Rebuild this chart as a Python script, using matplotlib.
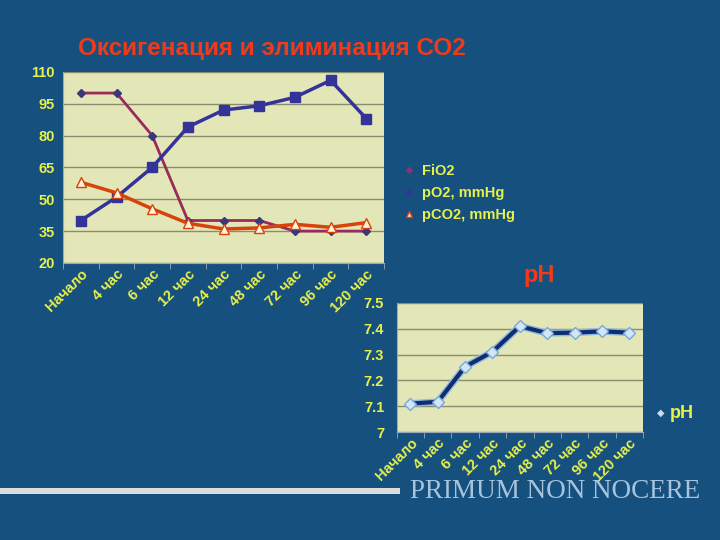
import numpy as np
import matplotlib.pyplot as plt
from matplotlib.lines import Line2D

# данные
categories = ['Начало', '4 час', '6 час', '12 час', '24 час', '48 час', '72 час', '96 час', '120 час']
fio2 = [100, 100, 80, 40, 40, 40, 35, 35, 35]
po2 = [40, 51, 65, 84, 92, 94, 98, 106, 88]
pco2 = [58, 53, 45.5, 38.7, 36, 36.5, 38.2, 36.8, 39]
ph = [7.11, 7.117, 7.253, 7.311, 7.41, 7.383, 7.385, 7.39, 7.385]

BG = '#15507f'
FACE = '#e3e6b6'
YEL = '#e8f04a'
RED = '#f03a1a'
GRID = '#8a8c70'

plt.rcParams['font.family'] = ['Liberation Sans', 'DejaVu Sans']

fig = plt.figure(figsize=(7.2, 5.4), dpi=100)
fig.patch.set_facecolor(BG)


def style_axes(ax, fs, pad):
    ax.set_facecolor(FACE)
    for s in ['top', 'right']:
        ax.spines[s].set_visible(False)
    ax.spines['left'].set_color('#9aa8b8')
    ax.spines['bottom'].set_color('#9aa8b8')
    ax.yaxis.grid(True, color=GRID, lw=1)
    ax.set_axisbelow(True)
    ax.tick_params(axis='y', length=0, colors=YEL, labelsize=fs, pad=pad)
    ax.tick_params(axis='x', which='minor', length=4, color='#9aa8b8')
    ax.tick_params(axis='x', which='major', length=0, colors=YEL, labelsize=fs, pad=3)
    for lab in ax.get_yticklabels():
        lab.set_fontweight('bold')
    n = len(categories)
    x = np.arange(n)
    ax.set_xlim(-0.5, n - 0.5)
    ax.set_xticks(x)
    ax.set_xticks(np.arange(n + 1) - 0.5, minor=True)
    ax.set_xticklabels(categories, rotation=45, ha='right', rotation_mode='anchor',
                       fontweight='bold', color=YEL)


# верхний график
ax1 = fig.add_axes([0.0875, 0.513, 0.446, 0.354])
x = np.arange(len(categories))
ax1.plot(x, fio2, color='#9a2a5a', lw=2, marker='D', ms=4.5,
         mfc='#3a3a7a', mec='#3a3a7a', label='FiO2', zorder=3)
ax1.plot(x, po2, color='#33339a', lw=2.5, marker='s', ms=6.5,
         mfc='#33339a', mec='#33339a', label='pO2, mmHg', zorder=4)
ax1.plot(x, pco2, color='#d8420c', lw=2.5, marker='^', ms=6.5,
         mfc='#fff4d8', mec='#d8420c', label='pCO2, mmHg', zorder=5)
ax1.set_ylim(20, 110)
ax1.set_yticks(np.arange(20, 111, 15))
style_axes(ax1, 10.5, 6)

handles = [
    Line2D([], [], color='#7a3a7a', lw=0, marker='D', ms=3, mfc='#7a3a7a', mec='#7a3a7a'),
    Line2D([], [], color='#33339a', lw=0, marker='s', ms=3, mfc='#33339a', mec='#33339a'),
    Line2D([], [], color='#d8420c', lw=0, marker='^', ms=4, mfc='#f8e0e0', mec='#d8420c'),
]
leg = fig.legend(handles, ['FiO2', 'pO2, mmHg', 'pCO2, mmHg'], loc='upper left',
                 bbox_to_anchor=(0.54, 0.72), frameon=False, handlelength=1,
                 handletextpad=0.4, labelspacing=0.55, fontsize=10.5)
for t in leg.get_texts():
    t.set_color(YEL)
    t.set_fontweight('bold')

fig.text(0.378, 0.911, 'Оксигенация и элиминация СО2', color=RED, fontsize=17.5,
         fontweight='bold', ha='center', va='center')

# нижний график pH
ax2 = fig.add_axes([0.551, 0.2, 0.342, 0.239])
ax2.plot(x, ph, color='#8cb8e0', lw=5, zorder=3, solid_capstyle='round')
ax2.plot(x, ph, color='#102e6e', lw=3, marker='D', ms=6,
         mfc='#d4e6f6', mec='#7aa8d8', zorder=4)
ax2.set_ylim(7.0, 7.5)
ax2.set_yticks([7.0, 7.1, 7.2, 7.3, 7.4, 7.5])
ax2.set_yticklabels(['7', '7.1', '7.2', '7.3', '7.4', '7.5'])
style_axes(ax2, 10.5, 9)

fig.text(0.749, 0.49, 'pH', color=RED, fontsize=17, fontweight='bold',
         ha='center', va='center')
fig.text(0.917, 0.235, '◆', color='#c8dcf0', fontsize=7, ha='center', va='center')
fig.text(0.93, 0.235, 'pH', color=YEL, fontsize=13, fontweight='bold',
         ha='left', va='center')

# нижняя полоса и девиз
fig.add_artist(plt.Rectangle((0, 0.085), 0.555, 0.012, transform=fig.transFigure,
                             color='#dcdcdc', lw=0))
fig.text(0.57, 0.09, 'PRIMUM NON NOCERE', color='#a8c4dc', fontsize=19.5,
         family='Liberation Serif', ha='left', va='center')

fig.savefig('out.png', dpi=100, facecolor=BG)
